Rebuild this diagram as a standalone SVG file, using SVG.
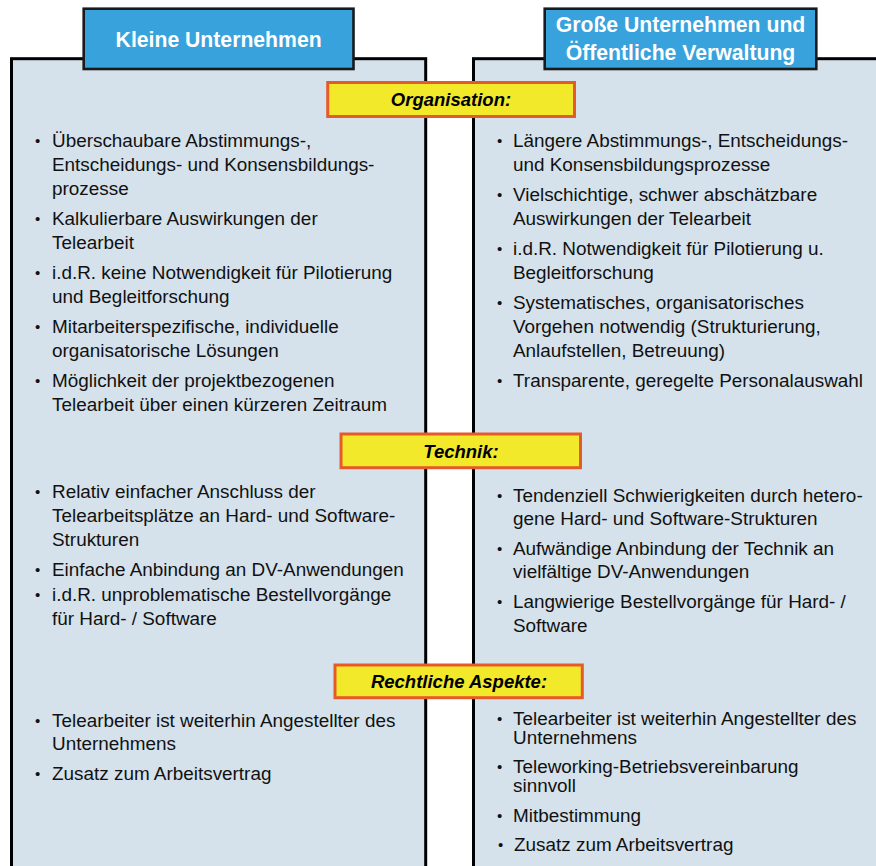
<svg xmlns="http://www.w3.org/2000/svg" width="876" height="866" viewBox="0 0 876 866">
<style>
.panel{fill:#d5e2ec;stroke:#000;stroke-width:3}
.head{fill:#38a2dc;stroke:#1a1a1a;stroke-width:2.6}
.htxt{font-family:"Liberation Sans",Arial,sans-serif;font-weight:bold;font-size:21.2px;fill:#fff;text-anchor:middle}
.lab{fill:#f2e92a;stroke:#e65a2a;stroke-width:3}
.ltxt{font-family:"Liberation Sans",Arial,sans-serif;font-weight:bold;font-style:italic;font-size:18.5px;fill:#000;text-anchor:middle}
.t{font-family:"Liberation Sans",Arial,sans-serif;font-size:18.9px;fill:#111}
.b{font-size:15px}
</style>
<rect width="876" height="866" fill="#fff"/>
<g id="panel-left">
<rect class="panel" x="11.5" y="58.7" width="414.2" height="820"/>
</g>
<g id="panel-right">
<rect class="panel" x="473.5" y="58.7" width="420" height="820"/>
</g>
<g id="header-left">
<rect class="head" x="83.7" y="8.7" width="269.8" height="60.3"/>
<text class="htxt" x="218.6" y="47">Kleine Unternehmen</text>
</g>
<g id="header-right">
<rect class="head" x="544.7" y="8.7" width="271.6" height="60.3"/>
<text class="htxt" x="680.5" y="32">Große Unternehmen und</text>
<text class="htxt" x="680.5" y="60">Öffentliche Verwaltung</text>
</g>
<g id="left-org" class="t">
<text class="b" x="35" y="146">•</text><text x="52" y="147">Überschaubare Abstimmungs-,</text>
<text x="52" y="171">Entscheidungs- und Konsensbildungs-</text>
<text x="52" y="195">prozesse</text>
<text class="b" x="35" y="224">•</text><text x="52" y="225">Kalkulierbare Auswirkungen der</text>
<text x="52" y="249">Telearbeit</text>
<text class="b" x="35" y="278">•</text><text x="52" y="279">i.d.R. keine Notwendigkeit für Pilotierung</text>
<text x="52" y="303">und Begleitforschung</text>
<text class="b" x="35" y="332">•</text><text x="52" y="333">Mitarbeiterspezifische, individuelle</text>
<text x="52" y="357">organisatorische Lösungen</text>
<text class="b" x="35" y="386">•</text><text x="52" y="387">Möglichkeit der projektbezogenen</text>
<text x="52" y="411">Telearbeit über einen kürzeren Zeitraum</text>
</g>
<g id="right-org" class="t">
<text class="b" x="497" y="146">•</text><text x="513" y="147">Längere Abstimmungs-, Entscheidungs-</text>
<text x="513" y="171">und Konsensbildungsprozesse</text>
<text class="b" x="497" y="200">•</text><text x="513" y="201">Vielschichtige, schwer abschätzbare</text>
<text x="513" y="225">Auswirkungen der Telearbeit</text>
<text class="b" x="497" y="254">•</text><text x="513" y="255">i.d.R. Notwendigkeit für Pilotierung u.</text>
<text x="513" y="279">Begleitforschung</text>
<text class="b" x="497" y="308">•</text><text x="513" y="309">Systematisches, organisatorisches</text>
<text x="513" y="333">Vorgehen notwendig (Strukturierung,</text>
<text x="513" y="357">Anlaufstellen, Betreuung)</text>
<text class="b" x="497" y="386">•</text><text x="513" y="387">Transparente, geregelte Personalauswahl</text>
</g>
<g id="left-tech" class="t">
<text class="b" x="35" y="497">•</text><text x="52" y="498">Relativ einfacher Anschluss der</text>
<text x="52" y="522">Telearbeitsplätze an Hard- und Software-</text>
<text x="52" y="546">Strukturen</text>
<text class="b" x="35" y="575">•</text><text x="52" y="576">Einfache Anbindung an DV-Anwendungen</text>
<text class="b" x="35" y="600">•</text><text x="52" y="601">i.d.R. unproblematische Bestellvorgänge</text>
<text x="52" y="625">für Hard- / Software</text>
</g>
<g id="right-tech" class="t">
<text class="b" x="497" y="501">•</text><text x="513" y="502">Tendenziell Schwierigkeiten durch hetero-</text>
<text x="513" y="525">gene Hard- und Software-Strukturen</text>
<text class="b" x="497" y="554">•</text><text x="513" y="555">Aufwändige Anbindung der Technik an</text>
<text x="513" y="578">vielfältige DV-Anwendungen</text>
<text class="b" x="497" y="607">•</text><text x="513" y="608">Langwierige Bestellvorgänge für Hard- /</text>
<text x="513" y="632">Software</text>
</g>
<g id="left-law" class="t">
<text class="b" x="35" y="726">•</text><text x="52" y="727">Telearbeiter ist weiterhin Angestellter des</text>
<text x="52" y="750">Unternehmens</text>
<text class="b" x="35" y="779">•</text><text x="52" y="780">Zusatz zum Arbeitsvertrag</text>
</g>
<g id="right-law" class="t">
<text class="b" x="497" y="724">•</text><text x="513" y="725">Telearbeiter ist weiterhin Angestellter des</text>
<text x="513" y="744">Unternehmens</text>
<text class="b" x="497" y="772">•</text><text x="513" y="773">Teleworking-Betriebsvereinbarung</text>
<text x="513" y="792">sinnvoll</text>
<text class="b" x="497" y="821">•</text><text x="513" y="822">Mitbestimmung</text>
<text class="b" x="498" y="850">•</text><text x="514" y="851">Zusatz zum Arbeitsvertrag</text>
</g>
<g id="label-organisation">
<rect class="lab" x="327.7" y="82.5" width="246.8" height="34"/>
<text class="ltxt" x="451" y="106">Organisation:</text>
</g>
<g id="label-technik">
<rect class="lab" x="341" y="434" width="239.5" height="33.7"/>
<text class="ltxt" x="461" y="458">Technik:</text>
</g>
<g id="label-recht">
<rect class="lab" x="335" y="665" width="247.3" height="32.7"/>
<text class="ltxt" x="459" y="688">Rechtliche Aspekte:</text>
</g>
</svg>
